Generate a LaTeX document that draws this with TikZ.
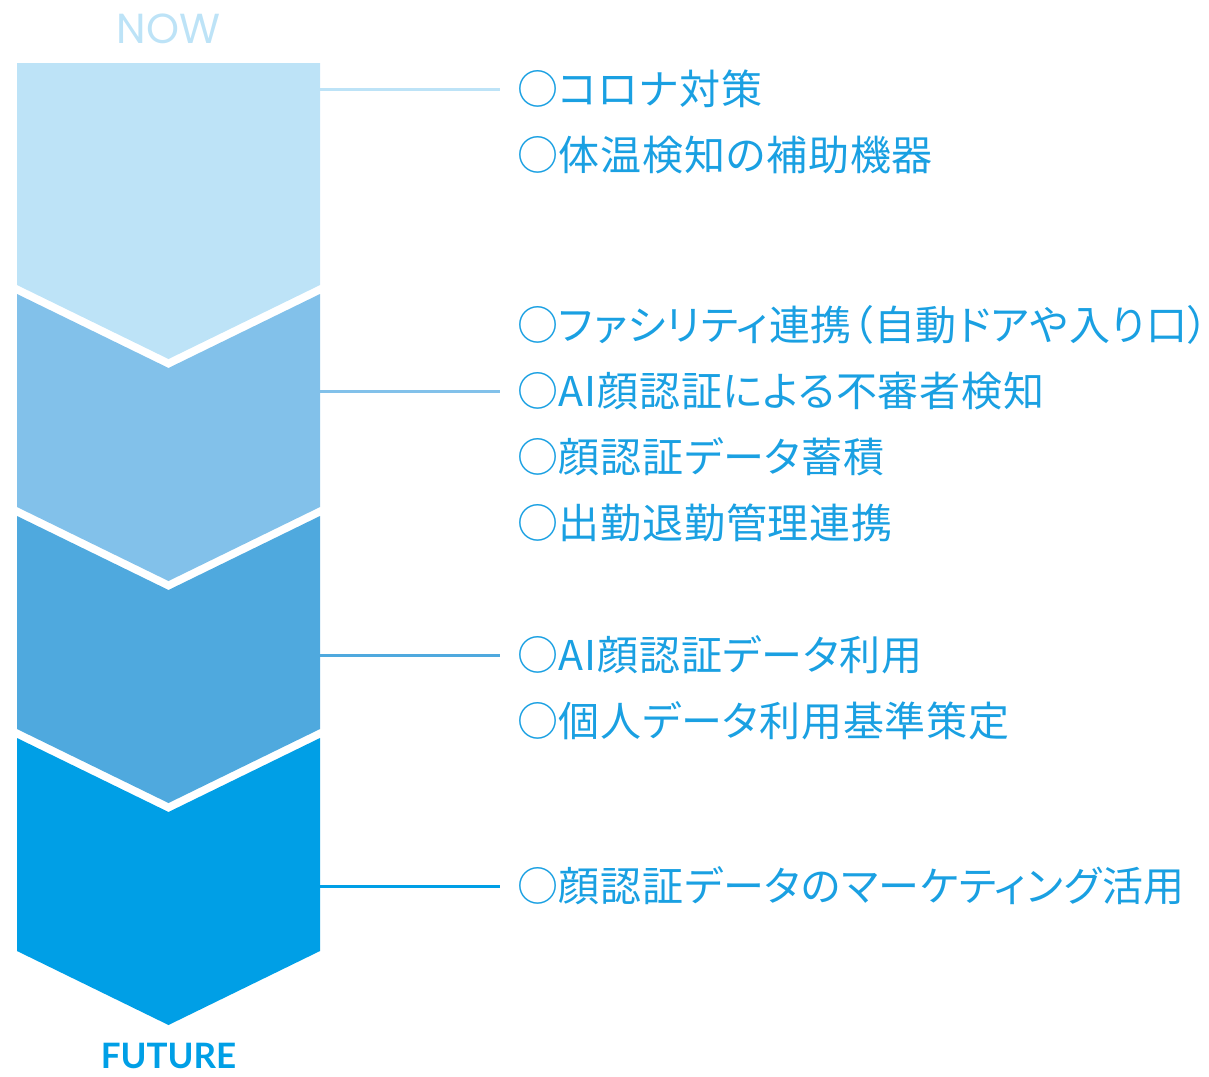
\documentclass[tikz,border=0pt]{standalone}
\usepackage{fontspec}
\usepackage{xcolor}
\newfontfamily\jpfont[RawFeature=+palt, LetterSpace=2]{Noto Sans CJK JP}
\newfontfamily\nowfont{Poppins}
\newfontfamily\futfont{Lato}
\usetikzlibrary{positioning}

\definecolor{stepA}{RGB}{189,227,247}
\definecolor{stepB}{RGB}{130,193,234}
\definecolor{stepC}{RGB}{79,169,222}
\definecolor{stepD}{RGB}{0,159,230}
\definecolor{itemblue}{RGB}{26,160,226}

\begin{document}
\begin{tikzpicture}[x=1pt, y=-1pt,
    item/.style = {anchor=west, inner sep=0pt, outer xsep=17pt, outer ysep=0pt,
      text height=36pt, text depth=5pt, text=itemblue,
      font=\jpfont\fontsize{41}{41}\selectfont},
    next/.style = {below=25pt of #1.south west, anchor=north west},
    prev/.style = {above=25pt of #1.north west, anchor=south west},
    link/.style = {line width=3pt}]
  \useasboundingbox (0,0) rectangle (1209,1076);

  % the four steps, top to bottom
  \foreach \col/\ytop/\dip/\ybot in {stepA/63/0/285, stepB/294/74/507,
                                     stepC/516/74/729, stepD/738/74/951}
    \fill[\col] (17,\ytop) -- (168.5,\ytop+\dip) -- (320,\ytop)
      -- (320,\ybot) -- (168.5,\ybot+74) -- (17,\ybot) -- cycle;

  \node[text=stepA, font=\nowfont\fontsize{42}{42}\selectfont] (now) at (168.5,29) {NOW};
  \node[text=stepD, font=\futfont\bfseries\fontsize{35}{35}\selectfont] (future) at (168.5,1056) {FUTURE};

  \coordinate (s1) at (320,89);
  \coordinate (s2) at (320,391);
  \coordinate (s3) at (320,655);
  \coordinate (s4) at (320,886);

  \node[item] (c1a) at (500,89) {○コロナ対策};
  \node[item, next=c1a] (c1b) {○体温検知の補助機器};

  \node[item] (c2b) at (500,391) {○AI顔認証による不審者検知};
  \node[item, prev=c2b] (c2a) {○ファシリティ連携（自動ドアや入り口）};
  \node[item, next=c2b] (c2c) {○顔認証データ蓄積};
  \node[item, next=c2c] (c2d) {○出勤退勤管理連携};

  \node[item] (c3a) at (500,655) {○AI顔認証データ利用};
  \node[item, next=c3a] (c3b) {○個人データ利用基準策定};

  \node[item] (c4a) at (500,886) {○顔認証データのマーケティング活用};

  \draw[link, stepA] (s1) -- (c1a.west);
  \draw[link, stepB] (s2) -- (c2b.west);
  \draw[link, stepC] (s3) -- (c3a.west);
  \draw[link, stepD] (s4) -- (c4a.west);
\end{tikzpicture}
\end{document}
